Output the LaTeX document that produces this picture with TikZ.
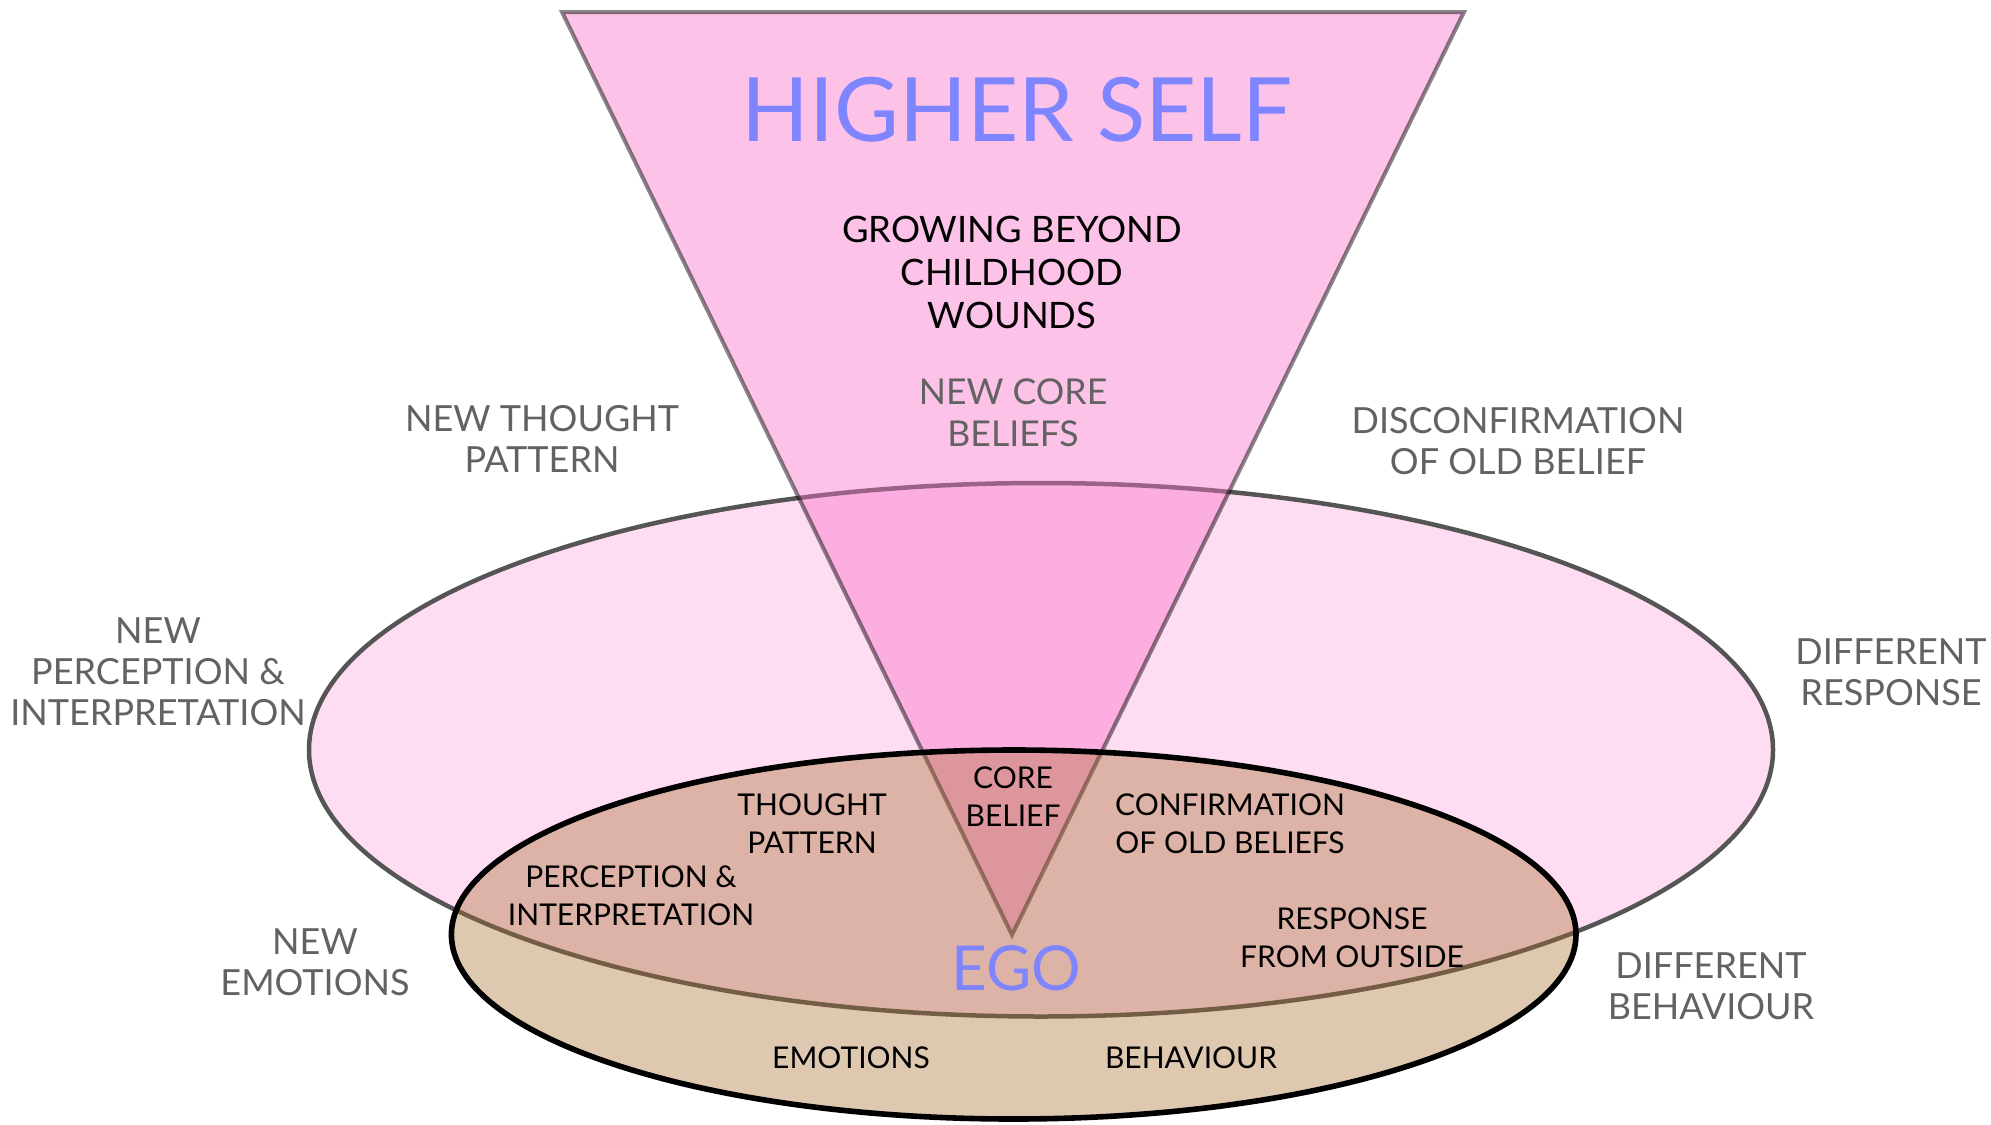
\documentclass[tikz,border=0pt]{standalone}
\usepackage{fontspec}
\setmainfont{Lato}
\definecolor{bigpink}{HTML}{FEDCF1}
\definecolor{bigline}{HTML}{555555}
\definecolor{tripink}{RGB}{250,115,203}
\definecolor{egotan}{RGB}{168,109,42}
\definecolor{labgray}{HTML}{626262}
\definecolor{titleblue}{HTML}{7F85FF}
\tikzset{
  bigell/.style={fill=bigpink, draw=bigline, line width=2.25pt},
  tri/.style={fill=tripink, fill opacity=0.43, draw=black, draw opacity=0.47, line width=2pt},
  egoell/.style={fill=egotan, fill opacity=0.37, draw=black, line width=2.8pt},
  outer/.style={text=labgray, font=\fontsize{18}{20.5}\selectfont, align=center, inner sep=0pt},
  inner/.style={text=black, font=\fontsize{15}{19}\selectfont, align=center, inner sep=0pt},
  growlab/.style={text=black, font=\fontsize{18.2}{21.5}\selectfont, align=center, inner sep=0pt},
  newcore/.style={text=labgray, font=\fontsize{17.8}{20.8}\selectfont, align=center, inner sep=0pt},
  bigtitle/.style={text=titleblue, font=\fontsize{44.4}{50}\selectfont, inner sep=0pt},
  egotitle/.style={text=titleblue, font=\fontsize{31}{34}\selectfont, inner sep=0pt}
}
\begin{document}
\begin{tikzpicture}[x=0.5pt,y=-0.5pt]
\useasboundingbox (0,0) rectangle (1991,1124);
\fill[white] (0,0) rectangle (1991,1124);
% shapes
\draw[bigell] (1041,749.75) ellipse [x radius=732, y radius=266.75];
\draw[tri] (562,12) -- (1464,12) -- (1012,935) -- cycle;
\draw[egoell] (1013.7,934.5) ellipse [x radius=562.3, y radius=184.5];
% texts in triangle
\node[bigtitle] (higher) at (1017,110) {HIGHER SELF};
\node[growlab] (grow) at (1012,272) {GROWING BEYOND\\CHILDHOOD\\WOUNDS};
\node[newcore] (newcore) at (1013,413) {NEW CORE\\BELIEFS};
% outer labels
\node[outer] (newthought) at (542,439) {NEW THOUGHT\\PATTERN};
\node[outer] (disconf) at (1518,441) {DISCONFIRMATION\\OF OLD BELIEF};
\node[outer] (newperc) at (158,672) {NEW\\PERCEPTION \&\\INTERPRETATION};
\node[outer] (diffresp) at (1891,672.5) {DIFFERENT\\RESPONSE};
\node[outer] (newemo) at (315,962.5) {NEW\\EMOTIONS};
\node[outer] (diffbeh) at (1711,986) {DIFFERENT\\BEHAVIOUR};
% inner labels
\node[inner] (core) at (1013,797) {CORE\\BELIEF};
\node[inner] (thought) at (812,824) {THOUGHT\\PATTERN};
\node[inner] (perc) at (631,895.5) {PERCEPTION \&\\INTERPRETATION};
\node[inner] (confirm) at (1230,824) {CONFIRMATION\\OF OLD BELIEFS};
\node[inner] (response) at (1352,937.5) {RESPONSE\\FROM OUTSIDE};
\node[inner] (emotions) at (851,1058) {EMOTIONS};
\node[inner] (behaviour) at (1191,1058) {BEHAVIOUR};
\node[egotitle] (ego) at (1016,968) {EGO};
\end{tikzpicture}
\end{document}
